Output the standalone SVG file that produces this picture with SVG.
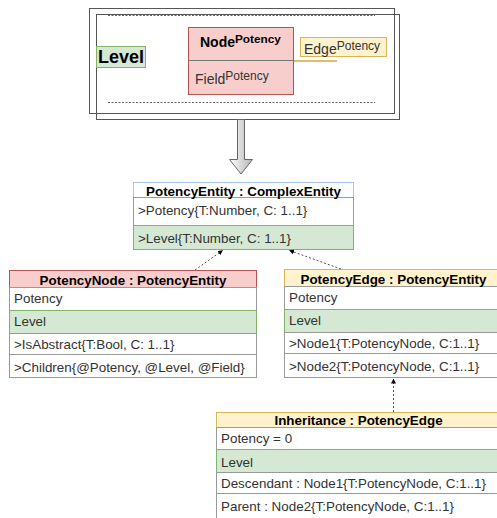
<svg xmlns="http://www.w3.org/2000/svg" width="497" height="518" viewBox="0 0 497 518">
<defs>
<linearGradient id="arrGrad" x1="0" y1="0" x2="1" y2="0">
<stop offset="0" stop-color="#ffffff"/>
<stop offset="1" stop-color="#b3b3b3"/>
</linearGradient>
<marker id="tri" viewBox="0 0 10 10" refX="9" refY="5" markerWidth="5" markerHeight="5" orient="auto">
<path d="M0,0 L10,5 L0,10 Z" fill="#000"/>
</marker>
<style>
text{font-family:"Liberation Sans",Arial,sans-serif;}
.hd{font-weight:bold;font-size:13.4px;fill:#000;text-anchor:middle;}
.row{font-size:13.4px;fill:#333;}
.w{fill:#fff;stroke:#999;stroke-width:1;}
.g{fill:#d5e8d4;stroke:#82b366;stroke-width:1;}
.r{fill:#f8cecc;stroke:#b85450;stroke-width:1;}
.y{fill:#fff2cc;stroke:#d6b656;stroke-width:1;}
.dash{stroke:#666;stroke-width:1;stroke-dasharray:2 1.5;fill:none;}
.conn{stroke:#555;stroke-width:1;stroke-dasharray:2 2;fill:none;}
</style>
</defs>

<g id="frame">
<rect x="89.5" y="8.5" width="305" height="105" fill="none" stroke="#555"/>
<rect x="96.5" y="14.5" width="303" height="105" fill="none" stroke="#555"/>
<line class="dash" x1="108" y1="15.5" x2="375" y2="15.5"/>
<line class="dash" x1="108" y1="102.5" x2="375" y2="102.5"/>
</g>

<g id="level-label">
<rect class="g" x="96.5" y="46.5" width="49" height="21"/>
<text x="98" y="63" font-size="18" font-weight="bold" fill="#000">Level</text>
</g>

<g id="node-potency">
<rect class="r" x="188.5" y="27.5" width="105" height="67"/>
<line x1="188.5" y1="60.5" x2="293.5" y2="60.5" stroke="#777"/>
<text x="200" y="47" font-size="14" font-weight="bold" fill="#000">Node<tspan font-size="11.8" dy="-4">Potency</tspan></text>
<text x="195" y="84" font-size="14" fill="#333">Field<tspan font-size="12" dy="-4">Potency</tspan></text>
</g>

<g id="edge-potency">
<rect class="y" x="300.5" y="37.5" width="86" height="19"/>
<text x="304" y="54" font-size="14" fill="#333">Edge<tspan font-size="12" dy="-4">Potency</tspan></text>
</g>

<g id="big-arrow">
<path d="M237.5,119.5 L244.5,119.5 L244.5,159.5 L252.5,159.5 L241,174 L229.5,159.5 L237.5,159.5 Z" fill="url(#arrGrad)" stroke="#666"/>
</g>

<g id="potency-entity">
<rect x="133.5" y="182.5" width="220" height="15" fill="#fff" stroke="#a9c4eb"/>
<rect class="w" x="133.5" y="197.5" width="220" height="28"/>
<rect class="g" x="133.5" y="225.5" width="220" height="24"/>
<text class="hd" x="243.5" y="195.5">PotencyEntity : ComplexEntity</text>
<text class="row" x="138" y="215">&gt;Potency{T:Number, C: 1..1}</text>
<text class="row" x="138" y="243">&gt;Level{T:Number, C: 1..1}</text>
</g>

<g id="potency-node">
<rect class="r" x="9.5" y="270.5" width="247" height="17"/>
<rect class="w" x="9.5" y="287.5" width="247" height="23"/>
<rect class="g" x="9.5" y="310.5" width="247" height="23"/>
<rect class="w" x="9.5" y="333.5" width="247" height="21"/>
<rect class="w" x="9.5" y="354.5" width="247" height="23"/>
<text class="hd" x="133" y="285">PotencyNode : PotencyEntity</text>
<text class="row" x="14" y="303">Potency</text>
<text class="row" x="14" y="326">Level</text>
<text class="row" x="14" y="349">&gt;IsAbstract{T:Bool, C: 1..1}</text>
<text class="row" x="14" y="372">&gt;Children{@Potency, @Level, @Field}</text>
</g>

<g id="potency-edge">
<rect class="y" x="284.5" y="269.5" width="218" height="17"/>
<rect class="w" x="284.5" y="286.5" width="218" height="23"/>
<rect class="g" x="284.5" y="309.5" width="218" height="23"/>
<rect class="w" x="284.5" y="332.5" width="218" height="21"/>
<rect class="w" x="284.5" y="353.5" width="218" height="24"/>
<text class="hd" x="393.5" y="284">PotencyEdge : PotencyEntity</text>
<text class="row" x="289" y="302">Potency</text>
<text class="row" x="289" y="325">Level</text>
<text class="row" x="289" y="348">&gt;Node1{T:PotencyNode, C:1..1}</text>
<text class="row" x="289" y="371">&gt;Node2{T:PotencyNode, C:1..1}</text>
</g>

<g id="inheritance">
<rect class="y" x="216.5" y="412.5" width="286" height="15"/>
<rect class="w" x="216.5" y="427.5" width="286" height="22"/>
<rect class="g" x="216.5" y="449.5" width="286" height="23"/>
<rect class="w" x="216.5" y="472.5" width="286" height="21"/>
<rect class="w" x="216.5" y="493.5" width="286" height="30"/>
<text class="hd" x="358.5" y="425">Inheritance : PotencyEdge</text>
<text class="row" x="221" y="443">Potency = 0</text>
<text class="row" x="221" y="467">Level</text>
<text class="row" x="221" y="488">Descendant : Node1{T:PotencyNode, C:1..1}</text>
<text class="row" x="221" y="511">Parent : Node2{T:PotencyNode, C:1..1}</text>
</g>

<g id="connectors">
<line x1="294" y1="61" x2="337" y2="61" stroke="#d6a93a" stroke-width="1.5"/>
<line class="conn" x1="195" y1="270" x2="222.5" y2="250.5" marker-end="url(#tri)"/>
<line class="conn" x1="341" y1="269" x2="289.5" y2="250.5" marker-end="url(#tri)"/>
<line class="conn" x1="393.5" y1="412" x2="393.5" y2="379" marker-end="url(#tri)"/>
</g>
</svg>
